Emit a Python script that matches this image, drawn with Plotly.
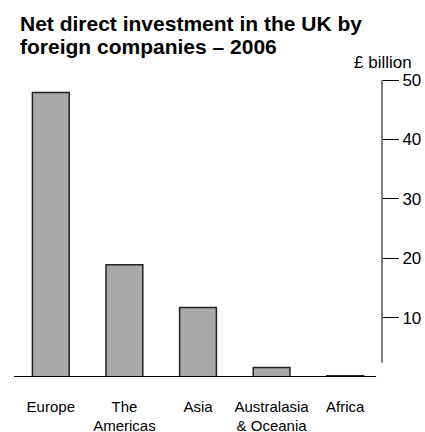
import plotly.graph_objects as go

categories = ["Europe", "The Americas", "Asia", "Australasia & Oceania", "Africa"]
tick_labels = ["Europe", "The<br>Americas", "Asia", "Australasia<br>& Oceania", "Africa"]
values = [47.9, 18.9, 11.7, 1.6, 0.2]
y_ticks = [10, 20, 30, 40, 50]
title_lines = ["Net direct investment in the UK by", "foreign companies – 2006"]
unit_label = "£ billion"

FONT = "Liberation Sans, Arial, sans-serif"

# plot area geometry (pixels)
H = 432
PLOT_TOP = 80
PLOT_BOTTOM = 377.5
PLOT_H = PLOT_BOTTOM - PLOT_TOP


def py_to_paper(py):
    return (PLOT_BOTTOM - py) / PLOT_H


fig = go.Figure()
fig.add_trace(go.Bar(
    x=list(range(len(categories))),
    y=values,
    width=0.5,
    marker=dict(color="#a9a9a9", line=dict(color="#222222", width=1.5)),
    hoverinfo="skip",
))

fig.update_layout(
    width=425, height=H,
    margin=dict(l=14, r=43, t=PLOT_TOP, b=H - PLOT_BOTTOM, autoexpand=False),
    paper_bgcolor="white", plot_bgcolor="white",
    showlegend=False,
    bargap=0.5,
    font=dict(family=FONT, color="black"),
    xaxis=dict(
        range=[-0.5, 4.5],
        tickvals=list(range(len(categories))),
        ticktext=tick_labels,
        ticks="outside", ticklen=15.5, tickcolor="rgba(0,0,0,0)",
        tickfont=dict(size=15, family=FONT, color="black"),
        showgrid=False, zeroline=False, showline=False,
        fixedrange=True, automargin=False,
    ),
    yaxis=dict(
        range=[0, 50],
        side="right",
        tickvals=y_ticks,
        ticks="outside", ticklen=16, tickwidth=1, tickcolor="black",
        tickfont=dict(size=17, family=FONT, color="black"),
        showgrid=False, zeroline=False, showline=False,
        fixedrange=True, automargin=False,
    ),
)

# baseline
fig.add_shape(type="line", xref="x", yref="y", x0=-0.5, x1=4.42, y0=0, y1=0,
              line=dict(color="black", width=2))
# vertical value axis line
fig.add_shape(type="line", xref="paper", yref="y", x0=1, x1=1, y0=2.4, y1=50,
              line=dict(color="black", width=1))

# title, two lines
for line, cy in zip(title_lines, [23.5, 46.0]):
    fig.add_annotation(text="<b>" + line + "</b>", xref="paper", yref="paper",
                       x=(18 - 14) / 368, y=py_to_paper(cy),
                       xanchor="left", yanchor="middle", showarrow=False,
                       font=dict(size=21, family=FONT, color="black"))

fig.add_annotation(text=unit_label, xref="paper", yref="paper",
                   x=(414 - 14) / 368, y=py_to_paper(62.5),
                   xanchor="right", yanchor="middle", showarrow=False,
                   font=dict(size=17, family=FONT, color="black"))

fig.write_html("out.html")
